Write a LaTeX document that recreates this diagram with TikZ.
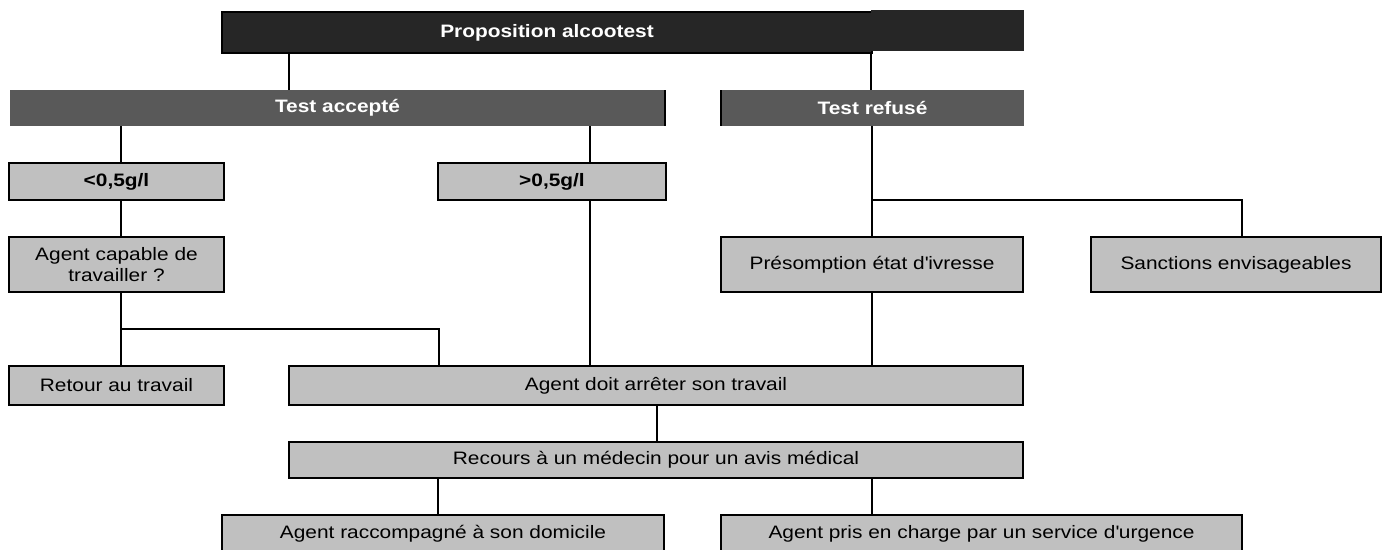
\documentclass[tikz,border=0pt]{standalone}
\usepackage{fontspec}
\setmainfont{Liberation Sans}[FakeStretch=1.16]
\definecolor{darkfill}{HTML}{262626}
\definecolor{midfill}{HTML}{595959}
\definecolor{lightfill}{HTML}{C0C0C0}
\begin{document}
\begin{tikzpicture}[x=1pt,y=-1pt,
  base/.style={anchor=north west, inner sep=0pt, outer sep=0pt, align=center,
               font=\fontsize{18}{21}\selectfont},
  box/.style={base, draw=black, line width=2pt, fill=lightfill},
  boldbox/.style={box, font=\fontsize{18}{21}\selectfont\bfseries},
  head/.style={base, fill=midfill, text=white, font=\fontsize{18}{21}\selectfont\bfseries},
  link/.style={line width=2pt, draw=black}]
\useasboundingbox (0,0) rectangle (1383,549);
% top
\node[head, fill=darkfill, draw=black, line width=2pt, minimum width=650pt, minimum height=41pt] (prop) at (222,12) {Proposition alcootest};
\fill[darkfill] (871,10) rectangle (1024,51);
\node[head, minimum width=655pt, minimum height=36pt] (acc) at (10,90) {Test accepté};
\node[head, minimum width=303pt, minimum height=36pt] (ref) at (721,90) {Test refusé};
\draw[line width=2pt] (acc.north east) -- (acc.south east);
\draw[line width=2pt] (ref.north west) -- (ref.south west);
% level 2
\node[boldbox, minimum width=215pt, minimum height=37pt] (lt) at (9,163) {<0,5g/l};
\node[boldbox, minimum width=228pt, minimum height=37pt] (gt) at (438,163) {>0,5g/l};
% level 3
\node[box, minimum width=215pt, minimum height=55pt] (cap) at (9,237) {Agent capable de\\travailler ?};
\node[box, minimum width=302pt, minimum height=55pt] (pres) at (721,237) {Présomption état d\textquotesingle ivresse};
\node[box, minimum width=290pt, minimum height=55pt] (sanc) at (1091,237) {Sanctions envisageables};
% level 4
\node[box, minimum width=215pt, minimum height=39pt] (ret) at (9,366) {Retour au travail};
\node[box, minimum width=734pt, minimum height=39pt] (doit) at (289,366) {Agent doit arrêter son travail};
\node[box, minimum width=734pt, minimum height=36pt] (rec) at (289,442) {Recours à un médecin pour un avis médical};
\node[box, minimum width=442pt, minimum height=37pt] (racc) at (222,515) {Agent raccompagné à son domicile};
\node[box, minimum width=521pt, minimum height=37pt] (pris) at (721,515) {Agent pris en charge par un service d\textquotesingle urgence};
% connector x positions
\coordinate (xa) at (289,0);
\coordinate (xb) at (871,0);
\coordinate (xc) at (121,0);
\coordinate (xd) at (590,0);
\coordinate (xe) at (872,0);
\coordinate (xs) at (1242,0);
\coordinate (xf) at (439,0);
\coordinate (xg) at (657,0);
\coordinate (xh) at (438,0);
\coordinate (j1) at (872,200);
\coordinate (j2) at (121,329);
% connectors
\draw[link] (xa |- prop.south) -- (xa |- acc.north);
\draw[link] (xb |- prop.south) -- (xb |- ref.north);
\draw[link] (xc |- acc.south) -- (xc |- lt.north);
\draw[link] (xd |- acc.south) -- (xd |- gt.north);
\draw[link] (xe |- ref.south) -- (xe |- pres.north);
\draw[link] (j1) -| (xs |- sanc.north);
\draw[link] (xc |- lt.south) -- (xc |- cap.north);
\draw[link] (xc |- cap.south) -- (xc |- ret.north);
\draw[link] (j2) -| (xf |- doit.north);
\draw[link] (xd |- gt.south) -- (xd |- doit.north);
\draw[link] (xe |- pres.south) -- (xe |- doit.north);
\draw[link] (xg |- doit.south) -- (xg |- rec.north);
\draw[link] (xh |- rec.south) -- (xh |- racc.north);
\draw[link] (xe |- rec.south) -- (xe |- pris.north);
\end{tikzpicture}
\end{document}
